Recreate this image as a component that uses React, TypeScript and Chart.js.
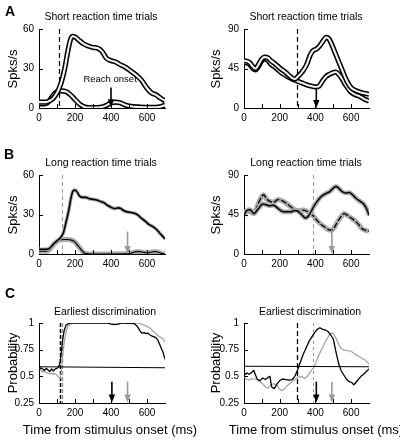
import React, { useEffect, useRef } from "react";
import { Chart, registerables } from "chart.js";

Chart.register(...registerables);

const FONT = "'Liberation Sans', Arial, Helvetica, sans-serif";

// ---------------- axis ticks ----------------
const xTickLabels = [0, 200, 400, 600];
const xMinorTicks = [100, 200, 300, 400, 500, 600];
const spikeTicksShort = [0, 30, 60];
const spikeTicksLong = [0, 45, 90];
const probTicks = [0.25, 0.5, 0.75, 1];

// ---------------- A: short RT, left neuron ----------------
const aLeftPrefT = [0, 40, 60, 80, 100, 112, 125, 143, 160, 175, 187, 200, 226, 250, 275, 300, 325, 350, 373, 400, 425, 450, 480, 510, 540, 570, 600, 625, 650, 675, 700];
const aLeftPrefV = [4.5, 4.5, 5.5, 7.5, 11.5, 15, 20, 30, 43, 52, 54.5, 54, 51, 48.5, 47, 46, 45.5, 43, 38, 36, 35, 33, 31, 28, 25, 21, 15, 11.5, 10, 7.5, 5.5];
const aLeftNullT = [0, 40, 60, 80, 100, 125, 150, 175, 200, 225, 250, 275, 300, 340, 375, 400, 425, 450, 475, 500, 525, 550, 600, 650, 700];
const aLeftNullV = [3, 3.5, 6, 10, 12.5, 13, 12.5, 10, 6.5, 3, 1, 0.3, 0.3, 0.5, 2, 4, 4.5, 4, 2.5, 1.5, 1, 0.8, 0.5, 0.5, 2];
const aLeftCue = [112];
const aLeftArrow = [400, 15.5, 0.5]; // time, from, to
const aLeftNote = [395, 21.5]; // "Reach onset" anchor (time, value)

// ---------------- A: short RT, right neuron ----------------
const aRightPrefT = [0, 30, 50, 65, 80, 100, 115, 135, 150, 170, 193, 210, 231, 250, 270, 287, 300, 325, 350, 370, 385, 405, 425, 445, 460, 475, 490, 510, 530, 550, 575, 600, 630, 660, 700];
const aRightPrefV = [54, 52, 47, 45, 49, 56, 58, 57, 54, 51, 47, 44, 41, 37.5, 34, 33, 35.5, 41, 49, 60, 65, 67, 71, 77, 80.5, 79, 73, 63, 53, 43, 31, 23, 19.5, 17.5, 15.5];
const aRightNullT = [0, 30, 50, 65, 80, 100, 115, 135, 150, 170, 193, 210, 231, 250, 270, 300, 325, 350, 375, 400, 420, 440, 460, 480, 500, 515, 530, 550, 570, 595, 620, 650, 680, 700];
const aRightNullV = [52, 50, 45, 43.5, 47, 54, 56, 54, 50, 47, 43, 40, 37.5, 35, 33, 30.5, 28.5, 26.5, 25, 24, 25, 31, 36, 38.5, 40.5, 41, 38.5, 33, 26, 19, 15.5, 13, 9.5, 8];
const aRightCue = [295];
const aRightArrow = [405, 23, 0];

// ---------------- B: long RT, left neuron ----------------
const bLeftPrefT = [0, 40, 60, 80, 100, 120, 135, 150, 165, 180, 190, 200, 212, 225, 240, 260, 280, 300, 320, 340, 360, 380, 400, 420, 440, 455, 470, 490, 510, 530, 550, 570, 590, 610, 630, 650, 670, 690, 700];
const bLeftPrefV = [3.5, 3.5, 4.5, 7.5, 10, 12.5, 16, 24, 33, 44, 48, 48.5, 47, 44, 43, 43, 42, 41.5, 41, 40, 39, 37, 35.5, 34.5, 35, 34.5, 33, 32, 31.5, 31, 29.5, 27, 25, 22.5, 21, 19, 16, 13, 11.5];
const bLeftNullT = [0, 40, 60, 80, 100, 120, 140, 160, 180, 200, 215, 230, 245, 260, 300, 400, 500, 520, 540, 560, 580, 600, 620, 640, 660, 680, 700];
const bLeftNullV = [2, 2, 3.5, 7, 9.5, 10.8, 11, 11, 10.5, 9, 6.5, 4, 1.5, 0.3, 0, 0, 0.3, 1, 1.8, 1.8, 1.2, 1, 1.3, 1.8, 1.5, 0.5, 0];
const bLeftCue = [128];
const bLeftArrow = [492, 17, 0];

// ---------------- B: long RT, right neuron ----------------
const bRightPrefT = [0, 15, 35, 55, 80, 105, 120, 140, 165, 190, 215, 240, 260, 285, 300, 320, 345, 360, 375, 390, 410, 430, 455, 480, 500, 515, 530, 550, 570, 590, 610, 630, 650, 670, 690, 700];
const bRightPrefV = [44, 49.5, 50.5, 46, 51.5, 57, 56.5, 55, 55.5, 52, 48.5, 48, 48, 49.5, 49, 45.5, 41, 43, 48, 54, 60, 65, 68.5, 71, 75, 77, 75, 71, 69.5, 70, 67, 63, 60, 57, 50, 44];
const bRightNullT = [0, 15, 35, 55, 75, 95, 110, 125, 145, 165, 190, 210, 235, 260, 285, 310, 330, 350, 370, 390, 410, 430, 450, 470, 490, 505, 525, 545, 560, 580, 600, 620, 640, 660, 680, 700];
const bRightNullV = [44, 49, 48, 46, 55, 64, 67.5, 63, 60, 59, 62, 61, 58, 54, 50.5, 49.5, 50, 49, 46, 43, 38, 34, 31, 28, 27, 30, 37, 43, 46, 44, 41, 38, 34, 29, 27, 26];
const bRightCue = [388];
const bRightArrow = [492, 27, 0];

// ---------------- C: earliest discrimination, left neuron ----------------
const cLeftBlackT = [0, 10, 20, 30, 40, 50, 60, 70, 80, 90, 100, 110, 118, 125, 132, 140, 150, 165, 180, 380, 400, 420, 440, 460, 530, 545, 560, 570, 585, 595, 605, 615, 625, 640, 650, 660, 670, 680, 690, 700];
const cLeftBlackV = [0.56, 0.58, 0.57, 0.555, 0.575, 0.56, 0.545, 0.57, 0.55, 0.57, 0.575, 0.59, 0.64, 0.74, 0.85, 0.93, 0.98, 0.995, 1.0, 1.0, 0.99, 0.985, 0.99, 1.0, 0.995, 0.97, 0.93, 0.905, 0.91, 0.9, 0.905, 0.89, 0.88, 0.87, 0.86, 0.84, 0.8, 0.76, 0.72, 0.66];
const cLeftGrayT = [0, 10, 20, 30, 40, 50, 60, 70, 80, 90, 100, 110, 118, 125, 132, 140, 150, 160, 175, 190, 550, 570, 590, 610, 630, 650, 670, 690, 700];
const cLeftGrayV = [0.57, 0.56, 0.54, 0.55, 0.535, 0.53, 0.525, 0.53, 0.52, 0.525, 0.51, 0.49, 0.48, 0.56, 0.7, 0.82, 0.92, 0.97, 0.995, 1.0, 1.0, 0.99, 0.975, 0.96, 0.93, 0.9, 0.87, 0.85, 0.82];
const cLeftThreshT = [0, 700];
const cLeftThreshV = [0.59, 0.58];
const cLeftCues = [115, 127]; // short RT (black), long RT (gray)
const cLeftArrows = [405, 492]; // short RT (black), long RT (gray)
const cArrowSpan = [0.45, 0.255];

// ---------------- C: earliest discrimination, right neuron ----------------
const cRightBlackT = [0, 15, 30, 45, 55, 65, 75, 90, 105, 120, 135, 145, 155, 170, 185, 200, 215, 235, 255, 270, 285, 300, 315, 330, 350, 365, 380, 395, 410, 425, 440, 455, 470, 485, 500, 515, 530, 545, 560, 575, 590, 605, 615, 625, 640, 655, 670, 685, 700];
const cRightBlackV = [0.51, 0.53, 0.52, 0.54, 0.555, 0.51, 0.47, 0.46, 0.485, 0.47, 0.49, 0.5, 0.4, 0.385, 0.43, 0.46, 0.475, 0.47, 0.465, 0.47, 0.5, 0.56, 0.63, 0.7, 0.775, 0.83, 0.87, 0.91, 0.94, 0.955, 0.94, 0.935, 0.92, 0.89, 0.85, 0.73, 0.62, 0.55, 0.51, 0.47, 0.45, 0.44, 0.42, 0.44, 0.47, 0.5, 0.52, 0.545, 0.57];
const cRightGrayT = [0, 15, 30, 45, 60, 75, 90, 105, 120, 135, 150, 165, 180, 195, 210, 225, 240, 255, 270, 285, 300, 320, 340, 355, 370, 390, 405, 420, 440, 460, 475, 490, 500, 515, 530, 545, 560, 580, 600, 620, 640, 660, 680, 700];
const cRightGrayV = [0.5, 0.47, 0.465, 0.48, 0.475, 0.47, 0.45, 0.43, 0.4, 0.39, 0.42, 0.43, 0.425, 0.39, 0.365, 0.38, 0.41, 0.43, 0.45, 0.47, 0.49, 0.5, 0.48, 0.5, 0.54, 0.58, 0.64, 0.7, 0.77, 0.84, 0.88, 0.905, 0.9, 0.86, 0.8, 0.76, 0.745, 0.74, 0.735, 0.71, 0.69, 0.67, 0.65, 0.615];
const cRightThreshT = [0, 700];
const cRightThreshV = [0.595, 0.59];
const cRightCues = [295, 388];
const cRightArrows = [405, 492];

// ---------------- text ----------------
const panelLetters = ["A", "B", "C"];
const rowTitles = ["Short reaction time trials", "Long reaction time trials", "Earliest discrimination"];
const yTitles = ["Spks/s", "Spks/s", "Probability"];
const xTitle = "Time from stimulus onset (ms)";
const noteText = "Reach onset";

// ---------------- helpers ----------------
type Layer = { t: number[]; v: number[]; color: string; width: number; dash?: number[]; smooth: boolean };
type Cue = { t: number; color: string; dash: number[]; width: number };
type Arrow = { t: number; from: number; to: number; color: string };
type Spec = {
  key: string;
  left: number; top: number; right: number; bottom: number;
  yMin: number; yMax: number; yTicks: number[];
  layers: Layer[]; cues: Cue[]; arrows: Arrow[];
  note?: { text: string; t: number; v: number };
};

const BLACK = "#000";
const GRAY = "#9a9a9a";

const pts = (t: number[], v: number[]) => t.map((x, i) => ({ x, y: v[i] }));
const tube = (t: number[], v: number[]): Layer[] => [
  { t, v, color: BLACK, width: 5.2, smooth: true },
  { t, v, color: "#f0f0f0", width: 2.1, smooth: true },
];
const halo = (t: number[], v: number[], hw: number, lw: number, dash?: number[]): Layer[] => [
  { t, v, color: "#ababab", width: hw, smooth: true },
  { t, v, color: BLACK, width: lw, dash, smooth: true },
];
const plain = (t: number[], v: number[], color: string, width: number): Layer => ({ t, v, color, width, smooth: false });

const L_LEFT = 39, L_RIGHT = 165, R_LEFT = 244, R_RIGHT = 369;

const specs: Spec[] = [
  {
    key: "aL", left: L_LEFT, right: L_RIGHT, top: 29, bottom: 108,
    yMin: 0, yMax: 60, yTicks: spikeTicksShort,
    layers: [...tube(aLeftNullT, aLeftNullV), ...tube(aLeftPrefT, aLeftPrefV)],
    cues: [{ t: aLeftCue[0], color: BLACK, dash: [5, 3], width: 1.2 }],
    arrows: [{ t: aLeftArrow[0], from: aLeftArrow[1], to: aLeftArrow[2], color: BLACK }],
    note: { text: noteText, t: aLeftNote[0], v: aLeftNote[1] },
  },
  {
    key: "aR", left: R_LEFT, right: R_RIGHT, top: 29, bottom: 108,
    yMin: 0, yMax: 90, yTicks: spikeTicksLong,
    layers: [...tube(aRightNullT, aRightNullV), ...tube(aRightPrefT, aRightPrefV)],
    cues: [{ t: aRightCue[0], color: BLACK, dash: [5, 3], width: 1.2 }],
    arrows: [{ t: aRightArrow[0], from: aRightArrow[1], to: aRightArrow[2], color: BLACK }],
  },
  {
    key: "bL", left: L_LEFT, right: L_RIGHT, top: 175, bottom: 254,
    yMin: 0, yMax: 60, yTicks: spikeTicksShort,
    layers: [...halo(bLeftNullT, bLeftNullV, 5, 1.2), ...halo(bLeftPrefT, bLeftPrefV, 3.6, 1.6)],
    cues: [{ t: bLeftCue[0], color: GRAY, dash: [4, 3], width: 1 }],
    arrows: [{ t: bLeftArrow[0], from: bLeftArrow[1], to: bLeftArrow[2], color: GRAY }],
  },
  {
    key: "bR", left: R_LEFT, right: R_RIGHT, top: 175, bottom: 254,
    yMin: 0, yMax: 90, yTicks: spikeTicksLong,
    layers: [...halo(bRightNullT, bRightNullV, 5, 1.3, [6, 2]), ...halo(bRightPrefT, bRightPrefV, 4.6, 1.5)],
    cues: [{ t: bRightCue[0], color: GRAY, dash: [4, 3], width: 1 }],
    arrows: [{ t: bRightArrow[0], from: bRightArrow[1], to: bRightArrow[2], color: GRAY }],
  },
  {
    key: "cL", left: L_LEFT, right: L_RIGHT, top: 323, bottom: 403,
    yMin: 0.25, yMax: 1, yTicks: probTicks,
    layers: [
      plain(cLeftGrayT, cLeftGrayV, "#a0a0a0", 1.2),
      plain(cLeftThreshT, cLeftThreshV, BLACK, 1.1),
      plain(cLeftBlackT, cLeftBlackV, BLACK, 1.3),
    ],
    cues: [
      { t: cLeftCues[0], color: BLACK, dash: [4, 2], width: 1.5 },
      { t: cLeftCues[1], color: GRAY, dash: [4, 2], width: 1.5 },
    ],
    arrows: [
      { t: cLeftArrows[0], from: cArrowSpan[0], to: cArrowSpan[1], color: BLACK },
      { t: cLeftArrows[1], from: cArrowSpan[0], to: cArrowSpan[1], color: GRAY },
    ],
  },
  {
    key: "cR", left: R_LEFT, right: R_RIGHT, top: 323, bottom: 403,
    yMin: 0.25, yMax: 1, yTicks: probTicks,
    layers: [
      plain(cRightGrayT, cRightGrayV, "#a0a0a0", 1.2),
      plain(cRightThreshT, cRightThreshV, BLACK, 1.1),
      plain(cRightBlackT, cRightBlackV, BLACK, 1.3),
    ],
    cues: [
      { t: cRightCues[0], color: BLACK, dash: [5, 3], width: 1.3 },
      { t: cRightCues[1], color: GRAY, dash: [3, 3], width: 1 },
    ],
    arrows: [
      { t: cRightArrows[0], from: cArrowSpan[0], to: cArrowSpan[1], color: BLACK },
      { t: cRightArrows[1], from: cArrowSpan[0], to: cArrowSpan[1], color: GRAY },
    ],
  },
];

function makeDecor(spec: Spec) {
  return {
    id: "decor",
    beforeDatasetsDraw(chart: any) {
      const { ctx, scales } = chart;
      const x = scales.x, y = scales.y;
      const yTop = y.getPixelForValue(spec.yMax);
      const yBot = y.getPixelForValue(spec.yMin);
      spec.cues.forEach((c) => {
        const px = Math.round(x.getPixelForValue(c.t)) + 0.5;
        ctx.save();
        ctx.strokeStyle = c.color;
        ctx.lineWidth = c.width;
        ctx.setLineDash(c.dash);
        ctx.beginPath();
        ctx.moveTo(px, yTop);
        ctx.lineTo(px, yBot);
        ctx.stroke();
        ctx.restore();
      });
    },
    afterDatasetsDraw(chart: any) {
      const { ctx, chartArea: a, scales } = chart;
      const x = scales.x, y = scales.y;
      ctx.save();
      ctx.strokeStyle = "#000";
      ctx.lineWidth = 1;
      xMinorTicks.forEach((t) => {
        const px = Math.round(x.getPixelForValue(t)) + 0.5;
        ctx.beginPath();
        ctx.moveTo(px, a.bottom);
        ctx.lineTo(px, a.bottom - 4);
        ctx.stroke();
      });
      spec.yTicks.forEach((v) => {
        const py = Math.round(y.getPixelForValue(v)) + 0.5;
        ctx.beginPath();
        ctx.moveTo(a.left, py);
        ctx.lineTo(a.left + 4, py);
        ctx.stroke();
      });
      spec.arrows.forEach((ar) => {
        const px = x.getPixelForValue(ar.t);
        const y1 = y.getPixelForValue(ar.from);
        const y2 = y.getPixelForValue(ar.to);
        ctx.strokeStyle = ar.color;
        ctx.fillStyle = ar.color;
        ctx.lineWidth = 1.6;
        ctx.beginPath();
        ctx.moveTo(px, y1);
        ctx.lineTo(px, y2 - 6);
        ctx.stroke();
        ctx.beginPath();
        ctx.moveTo(px - 3.2, y2 - 8);
        ctx.lineTo(px + 3.2, y2 - 8);
        ctx.lineTo(px, y2);
        ctx.closePath();
        ctx.fill();
      });
      if (spec.note) {
        ctx.fillStyle = "#000";
        ctx.font = `9.5px ${FONT}`;
        ctx.textAlign = "center";
        ctx.textBaseline = "middle";
        ctx.fillText(spec.note.text, x.getPixelForValue(spec.note.t), y.getPixelForValue(spec.note.v));
      }
      ctx.restore();
    },
  };
}

const PADL = 40, PADT = 12, PADR = 12, PADB = 28, YW = 30, XH = 20;

function Panel({ spec }: { spec: Spec }) {
  const ref = useRef<HTMLCanvasElement>(null);
  const cw = spec.right - spec.left + PADL + PADR;
  const ch = spec.bottom - spec.top + PADT + PADB;
  useEffect(() => {
    if (!ref.current) return;
    const n = spec.layers.length;
    const tickFont = { family: FONT, size: 10 };
    const chart = new Chart(ref.current, {
      type: "line",
      data: {
        datasets: spec.layers.map((L, i) => ({
          data: pts(L.t, L.v),
          borderColor: L.color,
          borderWidth: L.width,
          borderDash: L.dash || [],
          borderCapStyle: "butt",
          borderJoinStyle: "round",
          pointRadius: 0,
          fill: false,
          tension: 0,
          cubicInterpolationMode: L.smooth ? "monotone" : "default",
          order: n - i,
        })) as any,
      },
      options: {
        animation: false,
        responsive: false,
        maintainAspectRatio: false,
        events: [],
        layout: { padding: { left: PADL - YW, top: PADT, right: PADR, bottom: PADB - XH } },
        plugins: { legend: { display: false }, tooltip: { enabled: false }, title: { display: false } },
        scales: {
          x: {
            type: "linear",
            min: 0,
            max: 700,
            grid: { display: false, drawTicks: false },
            border: { display: true, color: "#000", width: 1 },
            ticks: { font: tickFont, color: "#000", padding: 4, maxRotation: 0, autoSkip: false, callback: (v: any) => String(v) },
            afterBuildTicks: (s: any) => { s.ticks = xTickLabels.map((value) => ({ value })); },
            afterFit: (s: any) => { s.height = XH; },
          },
          y: {
            type: "linear",
            min: spec.yMin,
            max: spec.yMax,
            grid: { display: false, drawTicks: false },
            border: { display: true, color: "#000", width: 1 },
            ticks: { font: tickFont, color: "#000", padding: 5, autoSkip: false, callback: (v: any) => String(v) },
            afterBuildTicks: (s: any) => { s.ticks = spec.yTicks.map((value) => ({ value })); },
            afterFit: (s: any) => { s.width = YW; },
          },
        },
      } as any,
      plugins: [makeDecor(spec)],
    });
    return () => chart.destroy();
  }, [spec]);
  return (
    <canvas
      ref={ref}
      width={cw}
      height={ch}
      style={{ position: "absolute", left: spec.left - PADL, top: spec.top - PADT, width: cw, height: ch }}
    />
  );
}

function Label(props: { text: string; x: number; y: number; size: number; bold?: boolean; rotate?: boolean }) {
  const { text, x, y, size, bold, rotate } = props;
  return (
    <div
      style={{
        position: "absolute",
        left: x,
        top: y,
        transform: `translate(-50%, -50%)${rotate ? " rotate(-90deg)" : ""}`,
        fontSize: size,
        fontWeight: bold ? "bold" : "normal",
        fontFamily: FONT,
        lineHeight: 1,
        whiteSpace: "nowrap",
        color: "#000",
      }}
    >
      {text}
    </div>
  );
}

const rowTitleY = [16, 162, 311];
const rowAxisMid = [68.5, 214.5, 363];
const letterPos = [[10, 11], [9, 154], [10, 293]];

export default function App() {
  useEffect(() => {
    document.body.style.margin = "0";
  }, []);
  return (
    <div style={{ position: "absolute", left: 0, top: 0, width: 400, height: 441, background: "#fff", overflow: "hidden" }}>
      {specs.map((s) => (
        <Panel key={s.key} spec={s} />
      ))}
      {panelLetters.map((l, i) => (
        <Label key={"l" + i} text={l} x={letterPos[i][0]} y={letterPos[i][1]} size={14} bold />
      ))}
      {rowTitles.map((t, i) => (
        <React.Fragment key={"t" + i}>
          <Label text={t} x={i === 2 ? 105 : 101} y={rowTitleY[i]} size={10.5} />
          <Label text={t} x={i === 2 ? 310 : 306} y={rowTitleY[i]} size={10.5} />
          <Label text={yTitles[i]} x={12} y={rowAxisMid[i]} size={13} rotate />
          <Label text={yTitles[i]} x={215} y={rowAxisMid[i]} size={13} rotate />
        </React.Fragment>
      ))}
      <Label text={xTitle} x={110} y={429} size={13} />
      <Label text={xTitle} x={316} y={429} size={13} />
    </div>
  );
}
